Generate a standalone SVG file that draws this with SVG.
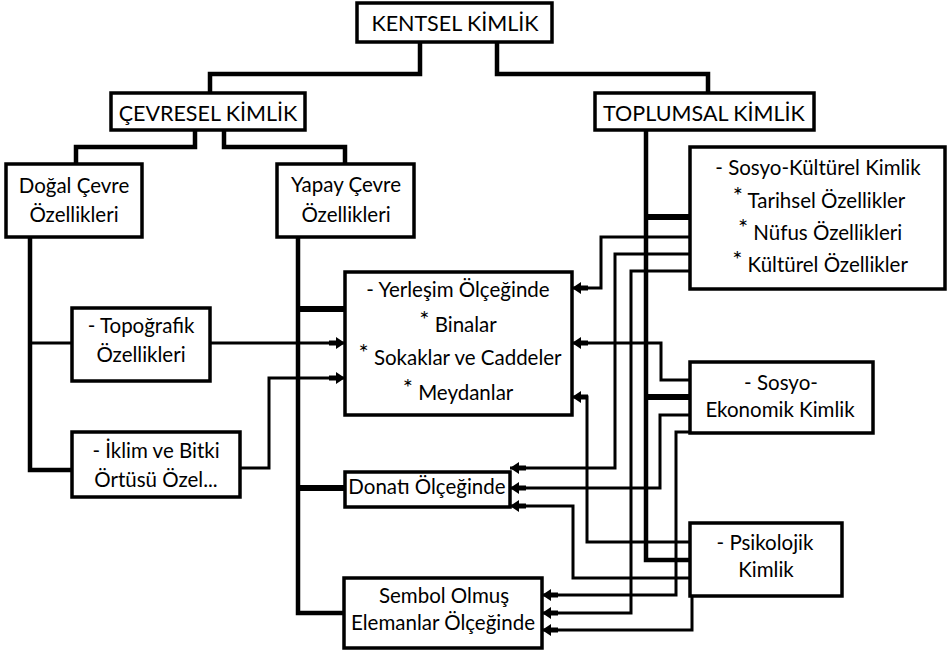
<svg xmlns="http://www.w3.org/2000/svg" width="948" height="655" viewBox="0 0 948 655">
<style>
.box{fill:#fff;stroke:#000;stroke-width:3.5}
.t{font-family:Lato,"Liberation Sans",sans-serif;font-size:20.5px;fill:#000;text-anchor:middle}
.h{font-size:21.5px}
.ast{font-size:24px}
.c{fill:none;stroke:#000;stroke-width:3;stroke-linejoin:miter}
.k{fill:none;stroke:#000;stroke-width:6}
.m{fill:none;stroke:#000;stroke-width:4.5}
</style>
<defs>
<marker id="ar" viewBox="0 0 16 12" refX="16" refY="6" markerWidth="16" markerHeight="12" markerUnits="userSpaceOnUse" orient="auto">
<path d="M16,6 L7,0 L7,3.5 L0,3.5 L0,8.5 L7,8.5 L7,12 Z" fill="#000"/>
</marker>
</defs>
<rect width="948" height="655" fill="#fff"/>
<g id="connectors">
<path class="m" d="M420,42 V74 H210 V93"/>
<path class="m" d="M497,42 V74 H708 V93"/>
<path class="m" d="M195,130 V147 H76 V164"/>
<path class="m" d="M224,130 V147 H345 V164"/>
<path class="m" d="M30,237 V470 H72"/>
<path class="c" d="M30,343 H72"/>
<path class="c" d="M210,343 H345" marker-end="url(#ar)"/>
<path class="c" d="M240,468 H269 V378 H345" marker-end="url(#ar)"/>
<path class="m" d="M298,237 V613 H344"/>
<path class="k" d="M298,309 H345"/>
<path class="k" d="M298,488 H345"/>
<path class="m" d="M646,130 V560 H690"/>
<path class="k" d="M646,217 H690"/>
<path class="k" d="M646,397 H690"/>
<path class="c" d="M690,237 H601 V288 H572" marker-end="url(#ar)"/>
<path class="c" d="M690,254 H615 V468 H510" marker-end="url(#ar)"/>
<path class="c" d="M690,271 H631 V613 H542" marker-end="url(#ar)"/>
<path class="c" d="M690,380 H661 V343 H572" marker-end="url(#ar)"/>
<path class="c" d="M690,415 H660 V488 H510" marker-end="url(#ar)"/>
<path class="c" d="M690,432 H676 V595 H542" marker-end="url(#ar)"/>
<path class="c" d="M690,542 H587 V397 H572" marker-end="url(#ar)"/>
<path class="c" d="M690,578 H573 V506 H510" marker-end="url(#ar)"/>
<path class="c" d="M692,596 V630 H542" marker-end="url(#ar)"/>
</g>
<g id="kentsel">
<rect class="box" x="357" y="3" width="195" height="39"/>
<text class="t h" x="455" y="31">KENTSEL KİMLİK</text>
</g>
<g id="cevresel">
<rect class="box" x="111" y="93" width="194" height="37"/>
<text class="t h" x="208" y="121">ÇEVRESEL KİMLİK</text>
</g>
<g id="toplumsal">
<rect class="box" x="595" y="93" width="219" height="37"/>
<text class="t h" x="704" y="121">TOPLUMSAL KİMLİK</text>
</g>
<g id="dogal">
<rect class="box" x="6" y="164" width="136" height="73"/>
<text class="t" x="74" y="193">Doğal Çevre</text>
<text class="t" x="74" y="222">Özellikleri</text>
</g>
<g id="yapay">
<rect class="box" x="277" y="164" width="137" height="73"/>
<text class="t" x="346" y="192">Yapay Çevre</text>
<text class="t" x="346" y="222">Özellikleri</text>
</g>
<g id="topografik">
<rect class="box" x="72" y="308" width="138" height="73"/>
<text class="t" x="141" y="333">- Topoğrafik</text>
<text class="t" x="141" y="362">Özellikleri</text>
</g>
<g id="iklim">
<rect class="box" x="72" y="432" width="168" height="65"/>
<text class="t" x="156" y="458">- İklim ve Bitki</text>
<text class="t" x="156" y="487">Örtüsü Özel...</text>
</g>
<g id="yerlesim">
<rect class="box" x="345" y="272" width="227" height="143"/>
<text class="t" x="458" y="297">- Yerleşim Ölçeğinde</text>
<text class="t" x="458" y="332"><tspan class="ast" dy="-4">*</tspan><tspan dy="4"> Binalar</tspan></text>
<text class="t" x="460" y="365"><tspan class="ast" dy="-4">*</tspan><tspan dy="4"> Sokaklar ve Caddeler</tspan></text>
<text class="t" x="458" y="400"><tspan class="ast" dy="-4">*</tspan><tspan dy="4"> Meydanlar</tspan></text>
</g>
<g id="donati">
<rect class="box" x="345" y="472" width="165" height="35"/>
<text class="t" x="427" y="494">Donatı Ölçeğinde</text>
</g>
<g id="sembol">
<rect class="box" x="344" y="578" width="198" height="70"/>
<text class="t" x="444" y="603">Sembol Olmuş</text>
<text class="t" x="443" y="630">Elemanlar Ölçeğinde</text>
</g>
<g id="sosyokulturel">
<rect class="box" x="690" y="147" width="255" height="142"/>
<text class="t" x="818" y="175">- Sosyo-Kültürel Kimlik</text>
<text class="t" x="819" y="208"><tspan class="ast" dy="-4">*</tspan><tspan dy="4"> Tarihsel Özellikler</tspan></text>
<text class="t" x="820" y="240"><tspan class="ast" dy="-4">*</tspan><tspan dy="4"> Nüfus Özellikleri</tspan></text>
<text class="t" x="820" y="272"><tspan class="ast" dy="-4">*</tspan><tspan dy="4"> Kültürel Özellikler</tspan></text>
</g>
<g id="sosyoekonomik">
<rect class="box" x="690" y="362" width="183" height="71"/>
<text class="t" x="781" y="390">- Sosyo-</text>
<text class="t" x="780" y="417">Ekonomik Kimlik</text>
</g>
<g id="psikolojik">
<rect class="box" x="690" y="523" width="152" height="73"/>
<text class="t" x="765" y="550">- Psikolojik</text>
<text class="t" x="766" y="577">Kimlik</text>
</g>
</svg>
